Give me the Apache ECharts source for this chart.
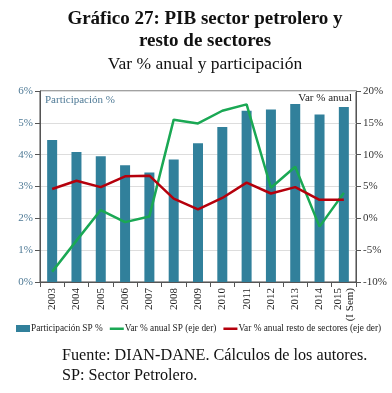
<!DOCTYPE html>
<html><head><meta charset="utf-8">
<script src="https://cdn.jsdelivr.net/npm/echarts@6/dist/echarts.min.js"></script>
<style>html,body{margin:0;padding:0;background:#fff}#c{width:392px;height:393px}</style>
</head><body><div id="c"></div>
<script>
const categories = ['2003','2004','2005','2006','2007','2008','2009','2010','2011','2012','2013','2014','2015\n(I Sem)'];
const participacionSP = [4.46,4.08,3.95,3.67,3.44,3.85,4.36,4.87,5.38,5.42,5.59,5.26,5.50];
const varAnualSP = [-8.4,-3.5,1.3,-0.6,0.3,15.5,14.9,16.9,17.9,4.8,8.1,-1.3,4.0];
const varAnualResto = [4.6,5.9,4.9,6.6,6.7,3.1,1.4,3.2,5.6,3.9,4.9,2.9,2.9];
const leftTicks = [0,1,2,3,4,5,6];
const rightTicks = [-10,-5,0,5,10,15,20];

const serif = '"Liberation Serif", "DejaVu Serif", serif';
const lineIcon = 'path://M0,0L0.01,0L0.01,0.01Z M0,2.5L14,2.5L14,5L0,5Z M0,7L0.01,7L0.01,6.99Z';
const chart = echarts.init(document.getElementById('c'));
chart.setOption({
  animation: false,
  title: [
    {text: 'Gráfico 27: PIB sector petrolero y\nresto de sectores', left: 200, textAlign: 'center', top: 3,
     textStyle: {fontFamily: serif, fontWeight: 'bold', fontSize: 19, lineHeight: 22, color: '#111'}},
    {text: 'Var % anual y participación', left: 200, textAlign: 'center', top: 50,
     textStyle: {fontFamily: serif, fontWeight: 'normal', fontSize: 17.5, color: '#111'}},
    {text: 'Fuente: DIAN-DANE. Cálculos de los autores.\nSP: Sector Petrolero.', left: 57, top: 341,
     textStyle: {fontFamily: serif, fontWeight: 'normal', fontSize: 16.2, lineHeight: 20, color: '#111'}}
  ],
  grid: {left: 40, right: 36, top: 91, bottom: 111, show: true, borderColor: '#444', borderWidth: 1, backgroundColor: 'transparent'},
  legend: {
    left: 16, top: 324, width: 380, padding: 0, itemWidth: 14, itemHeight: 7, itemGap: 7,
    textStyle: {fontFamily: serif, fontSize: 9.3, color: '#222', padding: [0,0,0,-4]},
    data: [
      {name: 'Participación SP %', icon: 'rect'},
      {name: 'Var % anual SP (eje der)', icon: lineIcon},
      {name: 'Var % anual resto de sectores (eje der)', icon: lineIcon}
    ]
  },
  xAxis: {
    type: 'category', data: categories,
    axisLine: {lineStyle: {color: '#555'}},
    axisTick: {show: true, lineStyle: {color: '#555'}},
    axisLabel: {rotate: 90, fontFamily: serif, fontSize: 11, color: '#222', lineHeight: 12, margin: 6, interval: 0}
  },
  yAxis: [
    {type: 'value', min: 0, max: 6, interval: 1,
     axisLine: {show: true, lineStyle: {color: '#555'}},
     axisTick: {show: true, lineStyle: {color: '#555'}},
     splitLine: {lineStyle: {color: '#ddd'}},
     axisLabel: {formatter: '{value}%', fontFamily: serif, fontSize: 11, color: '#4f7a96', margin: 7}},
    {type: 'value', min: -10, max: 20, interval: 5,
     axisLine: {show: true, lineStyle: {color: '#555'}},
     axisTick: {show: true, lineStyle: {color: '#555'}},
     splitLine: {show: false},
     axisLabel: {formatter: '{value}%', fontFamily: serif, fontSize: 11, color: '#333', margin: 7}}
  ],
  graphic: [
    {type: 'text', left: 45, top: 95, style: {text: 'Participación %', fontFamily: serif, fontSize: 11, fill: '#4f7a96'}},
    {type: 'text', right: 40, top: 93, style: {text: 'Var % anual', fontFamily: serif, fontSize: 11, fill: '#222'}}
  ],
  series: [
    {name: 'Participación SP %', type: 'bar', data: participacionSP, barWidth: 10,
     itemStyle: {color: '#31809b'}},
    {name: 'Var % anual SP (eje der)', type: 'line', yAxisIndex: 1, data: varAnualSP,
     symbol: 'none', lineStyle: {color: '#1aa854', width: 2.5}, itemStyle: {color: '#1aa854'}},
    {name: 'Var % anual resto de sectores (eje der)', type: 'line', yAxisIndex: 1, data: varAnualResto,
     symbol: 'none', lineStyle: {color: '#b5000c', width: 2.5}, itemStyle: {color: '#b5000c'}}
  ]
});
</script></body></html>
